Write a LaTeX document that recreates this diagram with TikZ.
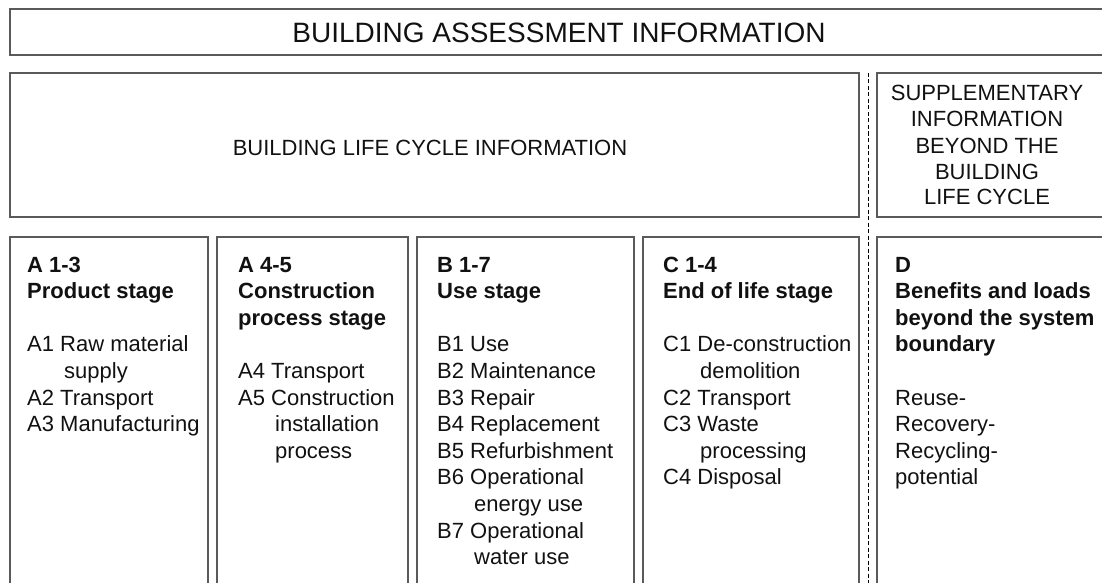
\documentclass[tikz,border=0pt]{standalone}
\usepackage{fontspec}
\setmainfont{Liberation Sans}
\definecolor{framegray}{HTML}{5A5A5A}
\definecolor{inkgray}{HTML}{111111}
\newcommand{\bodyfont}{\fontsize{22}{26.6}\selectfont}
\newcommand{\cont}{\hspace*{37pt}}
\begin{document}
\begin{tikzpicture}[x=1pt,y=-1pt,
  frame/.style={draw=framegray, line width=1.4pt},
  divider/.style={draw=black, line width=1pt, dash pattern=on 4pt off 2.5pt},
  label/.style={inner sep=0pt, text=inkgray, font=\bodyfont},
  stagetext/.style={label, anchor=base west}]
\useasboundingbox (0,0) rectangle (1102,583);

% outer frames
\draw[frame] (10,9) rectangle (1115,55);
\draw[frame] (10,73) rectangle (859,217);
\draw[frame] (877,73) rectangle (1115,217);

% stage columns (open at the bottom)
\draw[frame] (10,237) rectangle (208,600);
\draw[frame] (217,237) rectangle (408,600);
\draw[frame] (417,237) rectangle (634,600);
\draw[frame] (643,237) rectangle (859,600);
\draw[frame] (877,237) rectangle (1115,600);

% boundary between life cycle and supplementary information
\coordinate (dtop) at (868,73);
\coordinate (dbot) at (868,600);
\draw[divider] (dtop) -- (dbot);

% headings
\node[label, anchor=base, font=\fontsize{28}{32}\selectfont] (title) at (559,43)
  {BUILDING ASSESSMENT INFORMATION};
\node[label, anchor=base] (lifecycle) at (430,155)
  {BUILDING LIFE CYCLE INFORMATION};
\node[label, anchor=base] (supp) at (987,101)
  {\parbox[t]{220pt}{\centering\fontsize{22}{26}\selectfont
   SUPPLEMENTARY\\ INFORMATION\\ BEYOND THE\\ BUILDING\\ LIFE CYCLE}};

% stage contents
\node[stagetext] (stageA) at (27,272)
  {\parbox[t]{190pt}{\raggedright\bodyfont
   \textbf{A 1-3}\\ \textbf{Product stage}\\[26.6pt]
   A1 Raw material\\ \cont supply\\ A2 Transport\\ A3 Manufacturing}};
\node[stagetext] (stageAc) at (238,272)
  {\parbox[t]{190pt}{\raggedright\bodyfont
   \textbf{A 4-5}\\ \textbf{Construction}\\ \textbf{process stage}\\[26.6pt]
   A4 Transport\\ A5 Construction\\ \cont installation\\ \cont process}};
\node[stagetext] (stageB) at (437,272)
  {\parbox[t]{200pt}{\raggedright\bodyfont
   \textbf{B 1-7}\\ \textbf{Use stage}\\[26.6pt]
   B1 Use\\ B2 Maintenance\\ B3 Repair\\ B4 Replacement\\ B5 Refurbishment\\
   B6 Operational\\ \cont energy use\\ B7 Operational\\ \cont water use}};
\node[stagetext] (stageC) at (663,272)
  {\parbox[t]{200pt}{\raggedright\bodyfont
   \textbf{C 1-4}\\ \textbf{End of life stage}\\[26.6pt]
   C1 De-construction\\ \cont demolition\\ C2 Transport\\ C3 Waste\\
   \cont processing\\ C4 Disposal}};
\node[stagetext] (stageD) at (895,272)
  {\parbox[t]{260pt}{\raggedright\bodyfont
   \textbf{D}\\ \textbf{Benefits and loads}\\ \textbf{beyond the system}\\
   \textbf{boundary}\\[26.6pt]
   Reuse-\\ Recovery-\\ Recycling-\\ potential}};
\end{tikzpicture}
\end{document}
